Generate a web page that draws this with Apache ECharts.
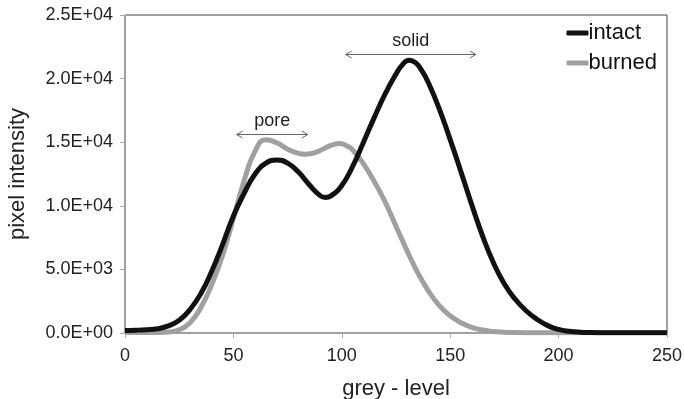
<!DOCTYPE html>
<html>
<head>
<meta charset="utf-8">
<script src="https://cdn.jsdelivr.net/npm/echarts@6/dist/echarts.min.js"></script>
<style>
html,body{margin:0;padding:0;background:#fff;}
#chart{width:684px;height:399px;}
</style>
</head>
<body>
<div id="chart"></div>
<script>
// grey levels (x) and pixel intensity, intact
const intactX = [0,5,10,15,20,25,30,35,40,45,50,55,60,65,70,75,80,85,90,92.5,95,100,105,110,115,120,125,128,131,134,137,140,145,150,155,160,165,170,175,180,185,190,195,200,205,210,215,220,225,230,235,240,245,250];
const intact  = [200,220,260,330,560,1000,1850,3100,4850,6950,9200,11000,12500,13350,13600,13350,12650,11650,10800,10660,10780,11600,13100,15000,16950,18800,20350,21100,21450,21250,20600,19650,17600,15200,12650,10050,7600,5500,3850,2650,1750,1080,580,280,130,60,35,25,20,20,20,20,20,20];
// grey levels (x) and pixel intensity, burned
const burnedX = [0,5,10,15,20,25,30,35,40,45,50,55,60,65,70,75,80,83,87,90,95,99,103,105,110,115,120,125,130,135,140,145,150,155,160,165,170,175,180,185,190,200,210,220,230,240,250];
const burned  = [30,30,30,40,80,250,800,2000,3800,6100,9000,12000,14300,15200,14950,14450,14120,14050,14150,14350,14750,14900,14650,14400,13300,11900,10300,8400,6500,4750,3300,2150,1350,800,450,230,110,60,30,20,20,20,20,20,20,20,20];
// annotations
const annoLabels = ['pore','solid'];
const annoStart = [51.5, 101.8];
const annoEnd = [84.3, 161.8];
const annoLevel = [15650, 21930];

const fmtE = v => {
  const parts = Number(v).toExponential(1).split('e');
  const sign = parts[1][0];
  let d = parts[1].slice(1);
  while (d.length < 2) d = '0' + d;
  return parts[0] + 'E' + sign + d;
};

const chart = echarts.init(document.getElementById('chart'));
const FONT = 'Liberation Sans';
chart.setOption({
  animation: false,
  grid: {left: 125, right: 17, top: 15, bottom: 66, containLabel: false, outerBoundsMode: 'none',
         show: true, borderColor: '#444', borderWidth: 1, backgroundColor: 'transparent'},
  legend: {
    data: [
      {name: 'intact', icon: 'roundRect'},
      {name: 'burned', icon: 'roundRect'}
    ],
    orient: 'vertical',
    right: 22, top: 17,
    itemWidth: 22, itemHeight: 5, itemGap: 8,
    textStyle: {fontFamily: FONT, fontSize: 22, color: '#111', padding: [0,0,0,-5]}
  },
  xAxis: {
    type: 'value', min: 0, max: 250, interval: 50,
    name: 'grey - level', nameLocation: 'middle', nameGap: 45,
    nameTextStyle: {fontFamily: FONT, fontSize: 22, color: '#222'},
    axisLine: {show: true, onZero: false, lineStyle: {color: '#a0a0a0', width: 2}},
    axisTick: {show: true, length: 5, lineStyle: {color: '#aaa', width: 1}},
    axisLabel: {fontFamily: FONT, fontSize: 18, color: '#222', margin: 14},
    splitLine: {show: false}
  },
  yAxis: {
    type: 'value', min: 0, max: 25000, interval: 5000,
    name: 'pixel intensity', nameLocation: 'middle', nameGap: 96,
    nameTextStyle: {fontFamily: FONT, fontSize: 22, color: '#222'},
    axisLine: {show: true, lineStyle: {color: '#a0a0a0', width: 1}},
    axisTick: {show: true, length: 5, lineStyle: {color: '#aaa', width: 1}},
    axisLabel: {fontFamily: FONT, fontSize: 18, color: '#222', margin: 12, formatter: fmtE},
    splitLine: {show: false}
  },
  series: [
    {
      name: 'burned', type: 'line', smooth: 0.5, showSymbol: false, symbol: 'none',
      data: burnedX.map((x, i) => [x, burned[i]]),
      lineStyle: {color: '#a0a0a0', width: 5}, itemStyle: {color: '#a0a0a0'}, z: 2
    },
    {
      name: 'intact', type: 'line', smooth: 0.5, showSymbol: false, symbol: 'none',
      data: intactX.map((x, i) => [x, intact[i]]),
      lineStyle: {color: '#111', width: 5}, itemStyle: {color: '#111'}, z: 3
    },
    {
      type: 'custom', silent: true, z: 5,
      encode: {x: [0, 1], y: 2},
      data: annoStart.map((s, i) => [s, annoEnd[i], annoLevel[i]]),
      renderItem: (params, api) => {
        const p1 = api.coord([api.value(0), api.value(2)]);
        const p2 = api.coord([api.value(1), api.value(2)]);
        const y = Math.round(p1[1]) + 0.5;
        const st = {stroke: '#666', lineWidth: 1, fill: null};
        return {type: 'group', children: [
          {type: 'line', shape: {x1: p1[0], y1: y, x2: p2[0], y2: y}, style: st},
          {type: 'polyline', shape: {points: [[p1[0] + 6, y - 3.5], [p1[0], y], [p1[0] + 6, y + 3.5]]}, style: st},
          {type: 'polyline', shape: {points: [[p2[0] - 6, y - 3.5], [p2[0], y], [p2[0] - 6, y + 3.5]]}, style: st},
          {type: 'text', style: {text: annoLabels[params.dataIndex], x: (p1[0] + p2[0]) / 2, y: y - 13, align: 'center', verticalAlign: 'middle', font: '18px "Liberation Sans"', fill: '#222'}}
        ]};
      }
    }
  ]
});
</script>
</body>
</html>
